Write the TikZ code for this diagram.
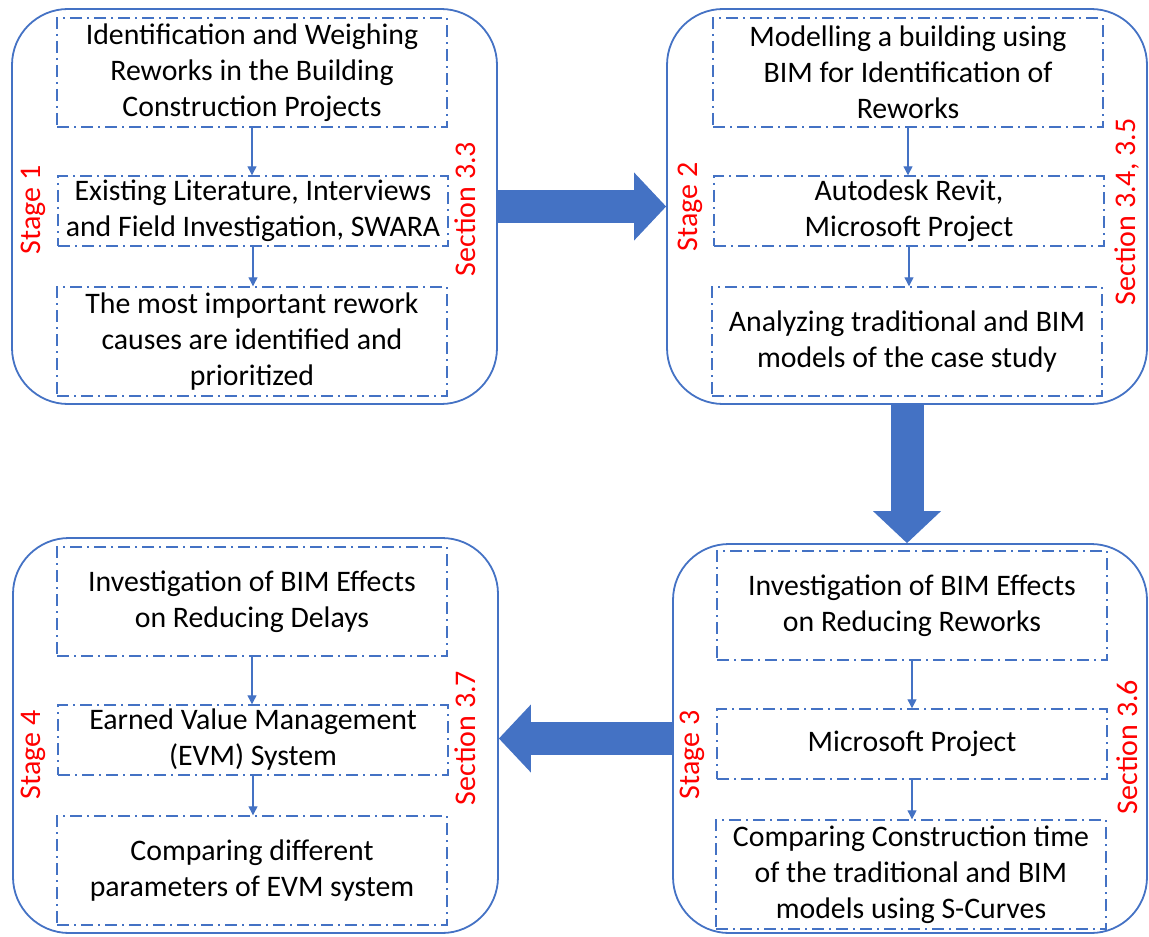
\documentclass[tikz,border=0pt]{standalone}
\usepackage{fontspec}
\setmainfont{Carlito}
\usetikzlibrary{arrows.meta}
\definecolor{officeblue}{HTML}{4472C4}
\tikzstyle{stagebox} = [draw = officeblue, line width = 0.9pt, rounded corners = 28pt, inner sep = 0pt]
\tikzstyle{taskbox} = [draw = officeblue, line width = 0.7pt, dash pattern = on 6pt off 2.5pt on 1pt off 2.5pt, align = center, inner sep = 0pt, minimum width = 195pt, font = \fontsize{14.9}{18}\selectfont]
\tikzstyle{tasktall} = [taskbox, minimum height = 54.5pt]
\tikzstyle{taskshort} = [taskbox, minimum height = 35pt]
\tikzstyle{stagelabel} = [text = red, rotate = 90, inner sep = 0pt, font = \fontsize{15}{18}\selectfont]
\tikzstyle{link} = [officeblue, line width = 0.6pt, -{Triangle[width = 4.5pt, length = 4.5pt]}]
\tikzstyle{flow} = [officeblue, line width = 16.5pt, -{Triangle[width = 34pt, length = 16pt, line width = 0pt]}]

\begin{document}
\begin{tikzpicture}[x = 0.5pt, y = -0.5pt]
    \useasboundingbox (0, 0) rectangle (1149, 936);

    \node (st1) at (254.5, 206.5) [stagebox, minimum width = 242.5pt, minimum height = 197.5pt] {};
    \node (st2) at (907, 206.5) [stagebox, minimum width = 240pt, minimum height = 197.5pt] {};
    \node (st3) at (910, 738.5) [stagebox, minimum width = 237pt, minimum height = 194.5pt] {};
    \node (st4) at (255.5, 735.5) [stagebox, minimum width = 242.5pt, minimum height = 197.5pt] {};

    \node (a1) at (252, 72.5) [tasktall] {Identification and Weighing\\ Reworks in the Building\\ Construction Projects};
    \node (a2) at (253, 211) [taskshort] {Existing Literature, Interviews\\ and Field Investigation, SWARA};
    \node (a3) at (252, 341.5) [tasktall] {The most important rework\\ causes are identified and\\ prioritized};

    \node (b1) at (908, 72.5) [tasktall] {Modelling a building using\\ BIM for Identification of\\ Reworks};
    \node (b2) at (909, 211) [taskshort] {Autodesk Revit,\\ Microsoft Project};
    \node (b3) at (907, 341.5) [tasktall] {Analyzing traditional and BIM\\ models of the case study};

    \node (c1) at (912, 605.5) [tasktall] {Investigation of BIM Effects\\ on Reducing Reworks};
    \node (c2) at (912, 744) [taskshort] {Microsoft Project};
    \node (c3) at (911, 874.5) [tasktall] {Comparing Construction time\\ of the traditional and BIM\\ models using S-Curves};

    \node (d1) at (252, 601.5) [tasktall] {Investigation of BIM Effects\\ on Reducing Delays};
    \node (d2) at (253, 740) [taskshort] {Earned Value Management\\ (EVM) System};
    \node (d3) at (252, 870.5) [tasktall] {Comparing different\\ parameters of EVM system};

    \node (l1) at (33, 210) [stagelabel] {Stage 1};
    \node (r1) at (465, 209) [stagelabel] {Section 3.3};
    \node (l2) at (690, 207) [stagelabel] {Stage 2};
    \node (r2) at (1127, 212) [stagelabel] {Section 3.4, 3.5};
    \node (l3) at (692, 755) [stagelabel] {Stage 3};
    \node (r3) at (1127, 747) [stagelabel] {Section 3.6};
    \node (l4) at (33, 755) [stagelabel] {Stage 4};
    \node (r4) at (465, 738) [stagelabel] {Section 3.7};

    \draw [link] (a1.south) -- (a1.south |- a2.north);
    \draw [link] (a2.south) -- (a2.south |- a3.north);
    \draw [link] (b1.south) -- (b1.south |- b2.north);
    \draw [link] (b2.south) -- (b2.south |- b3.north);
    \draw [link] (c1.south) -- (c1.south |- c2.north);
    \draw [link] (c2.south) -- (c2.south |- c3.north);
    \draw [link] (d1.south) -- (d1.south |- d2.north);
    \draw [link] (d2.south) -- (d2.south |- d3.north);

    \draw [flow] (st1.east) -- (st2.west);
    \draw [flow] (st2.south) -- (st2.south |- st3.north);
    \draw [flow] (st3.west) -- (st3.west -| st4.east);
\end{tikzpicture}
\end{document}
